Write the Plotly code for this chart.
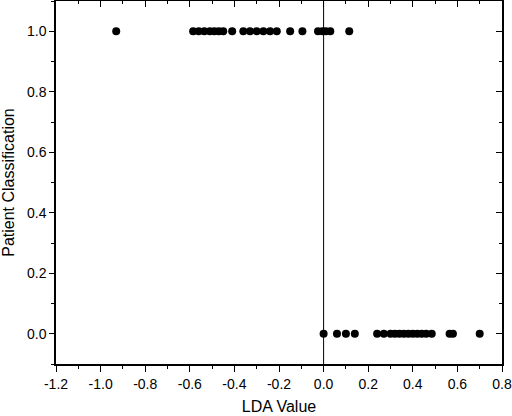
import plotly.graph_objects as go

# LDA values for patients classified as 1.0
lda_class1 = [-0.93,
              -0.585, -0.56, -0.535, -0.51, -0.49, -0.47, -0.45,
              -0.41,
              -0.36, -0.33, -0.30, -0.27, -0.24, -0.21,
              -0.15, -0.095,
              -0.025, -0.005, 0.01, 0.03,
              0.115]
# LDA values for patients classified as 0.0
lda_class0 = [0.0, 0.06, 0.10, 0.14,
              0.24, 0.27, 0.30, 0.32, 0.34, 0.36, 0.38, 0.40, 0.42, 0.44, 0.46, 0.485,
              0.565, 0.58,
              0.70]

x_vals = lda_class1 + lda_class0
y_vals = [1.0] * len(lda_class1) + [0.0] * len(lda_class0)

x_range = [-1.2, 0.8]
y_range = [-0.1, 1.1]
x_ticks = [-1.2, -1.0, -0.8, -0.6, -0.4, -0.2, 0.0, 0.2, 0.4, 0.6, 0.8]
y_ticks = [0.0, 0.2, 0.4, 0.6, 0.8, 1.0]

font = "Liberation Sans, Arial, sans-serif"

fig = go.Figure()
fig.add_trace(go.Scatter(x=x_vals, y=y_vals, mode="markers",
                         marker=dict(color="black", size=8, line=dict(width=0)),
                         showlegend=False))
# invisible trace to anchor the mirrored (top/right) axes
fig.add_trace(go.Scatter(x=x_vals, y=y_vals, mode="markers", xaxis="x2", yaxis="y2",
                         marker=dict(opacity=0), hoverinfo="skip", showlegend=False))

fig.add_vline(x=0, line=dict(color="black", width=1))

axis_common = dict(showgrid=False, zeroline=False, showline=True, linecolor="black",
                   linewidth=1.5, tickcolor="black", tickwidth=1.2)

fig.update_layout(
    width=512, height=416,
    margin=dict(l=56, r=10, t=1, b=52, autoexpand=False),
    plot_bgcolor="white", paper_bgcolor="white",
    font=dict(family=font, size=14, color="black"),
    xaxis=dict(range=x_range, tickvals=x_ticks, ticktext=[f"{v:.1f}" for v in x_ticks],
               ticks="outside", ticklen=6, automargin=False,
               minor=dict(dtick=0.1, tick0=0, ticks="outside", ticklen=3, tickcolor="black", tickwidth=1.2),
               title=dict(text="LDA Value", font=dict(size=16), standoff=10),
               **axis_common),
    yaxis=dict(range=y_range, tickvals=y_ticks, ticktext=[f"{v:.1f}" for v in y_ticks],
               ticks="outside", ticklen=5, automargin=False,
               minor=dict(dtick=0.1, tick0=0, ticks="outside", ticklen=3, tickcolor="black", tickwidth=1.2),
               title=dict(text="Patient Classification", font=dict(size=16), standoff=8),
               **axis_common),
    xaxis2=dict(range=x_range, overlaying="x", side="top", anchor="y2",
                tickvals=x_ticks, ticks="inside", ticklen=6, showticklabels=False,
                minor=dict(dtick=0.1, tick0=0, ticks="inside", ticklen=3, tickcolor="black", tickwidth=1.2),
                **axis_common),
    yaxis2=dict(range=y_range, overlaying="y", side="right", anchor="x2",
                tickvals=y_ticks, ticks="inside", ticklen=6, showticklabels=False,
                minor=dict(dtick=0.1, tick0=0, ticks="inside", ticklen=3, tickcolor="black", tickwidth=1.2),
                **axis_common),
)

fig.write_html("out.html", config={"displayModeBar": False},
               post_script="document.body.style.margin='0';document.body.style.overflow='hidden';")
